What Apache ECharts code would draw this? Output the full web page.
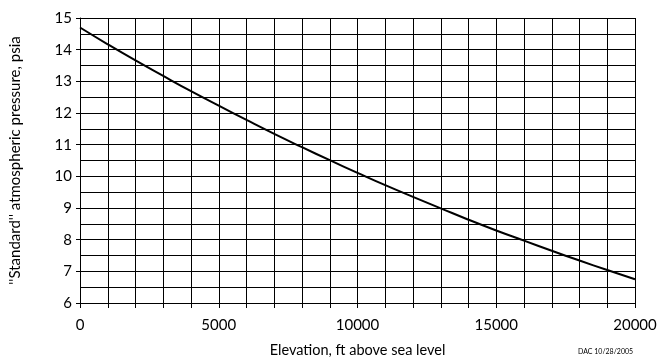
<!DOCTYPE html>
<html>
<head>
<meta charset="utf-8">
<script src="https://cdn.jsdelivr.net/npm/echarts@6/dist/echarts.min.js"></script>
<style>
  html, body { margin: 0; padding: 0; background: #fff; }
  #container { width: 662px; height: 363px; }
</style>
</head>
<body>
<div id="container"></div>
<script>
// 初始化
var dom = document.getElementById('container');
var myChart = echarts.init(dom, null, { renderer: 'canvas' });

// 数据
var elevation = [0, 1000, 2000, 3000, 4000, 5000, 6000, 7000, 8000, 9000, 10000,
  11000, 12000, 13000, 14000, 15000, 16000, 17000, 18000, 19000, 20000];
var pressure = [14.70, 14.17, 13.66, 13.17, 12.69, 12.23, 11.78, 11.34, 10.92, 10.51, 10.11,
  9.72, 9.35, 8.99, 8.63, 8.29, 7.97, 7.65, 7.34, 7.04, 6.75];

var xTitle = 'Elevation, ft above sea level';
var yTitle = "''Standard'' atmospheric pressure, psia";
var stamp = 'DAC 10/28/2005';

var font = 'Lato, "Open Sans", sans-serif';
var gridLine = { color: '#000', width: 1 };

var option = {
  animation: false,
  grid: { left: 78, right: 27, top: 18, bottom: 60 },
  xAxis: {
    type: 'value',
    min: 0, max: 20000, interval: 5000,
    name: xTitle,
    nameLocation: 'middle',
    nameGap: 40,
    nameTextStyle: { color: '#000', fontSize: 14.5, fontFamily: font },
    axisLine: { show: true, lineStyle: gridLine },
    axisTick: { show: true, length: 5, lineStyle: gridLine },
    minorTick: { show: true, splitNumber: 5, length: 5, lineStyle: gridLine },
    splitLine: { show: true, lineStyle: gridLine },
    minorSplitLine: { show: true, lineStyle: gridLine },
    axisLabel: {
      color: '#000', fontSize: 15, fontFamily: font, margin: 15,
      formatter: function (v) { return String(v); }
    }
  },
  yAxis: {
    type: 'value',
    min: 6, max: 15, interval: 1,
    name: yTitle,
    nameLocation: 'middle',
    nameGap: 57,
    nameTextStyle: { color: '#000', fontSize: 15, fontFamily: font },
    axisLine: { show: true, lineStyle: gridLine },
    axisTick: { show: true, length: 4, lineStyle: gridLine },
    minorTick: { show: false, splitNumber: 2 },
    splitLine: { show: true, lineStyle: gridLine },
    minorSplitLine: { show: true, lineStyle: gridLine },
    axisLabel: { color: '#000', fontSize: 15, fontFamily: font, margin: 8 }
  },
  graphic: [{
    type: 'text',
    left: 578, top: 348,
    style: { text: stamp, fontSize: 7, fontFamily: font, fill: '#000' }
  }],
  series: [{
    type: 'line',
    data: elevation.map(function (e, i) { return [e, pressure[i]]; }),
    smooth: true,
    showSymbol: false,
    lineStyle: { color: '#000', width: 2 }
  }]
};

myChart.setOption(option);
window.addEventListener('resize', myChart.resize);
</script>
</body>
</html>
